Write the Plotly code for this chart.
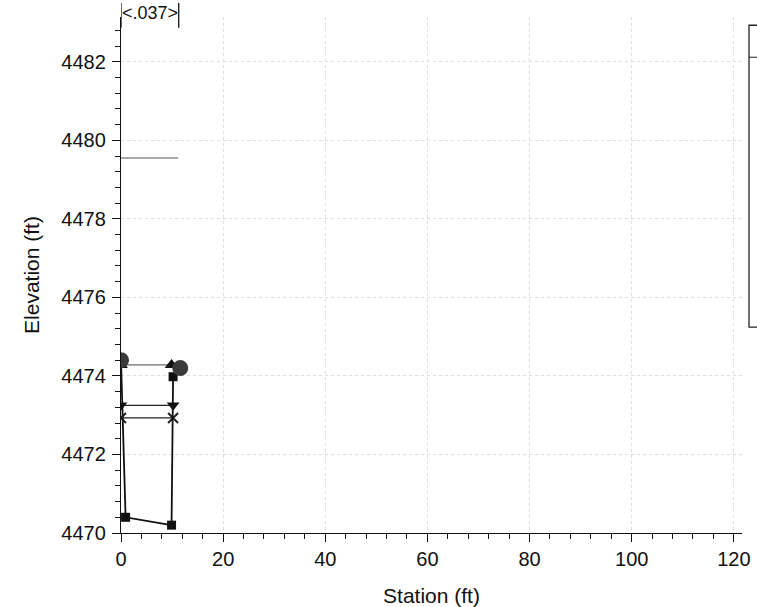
import plotly.graph_objects as go

# Data
ground_sta = [0.0, 0.9, 9.9, 10.2]
ground_elev = [4474.40, 4470.40, 4470.20, 4473.98]
bank_sta = [0.0, 11.6]
bank_elev = [4474.40, 4474.20]
eg_sta = [0.0, 9.9]
eg_elev = [4474.28, 4474.28]
ws_sta = [0.0, 10.2]
ws_elev = [4473.25, 4473.25]
crit_sta = [0.0, 10.2]
crit_elev = [4472.93, 4472.93]
lid_sta = [0.0, 11.2]
lid_elev = [4479.55, 4479.55]
n_value_label = "<.037>"
n_bounds = [0.0, 11.3]

x_ticks = [0, 20, 40, 60, 80, 100, 120]
y_ticks = [4470, 4472, 4474, 4476, 4478, 4480, 4482]

FONT = "Liberation Sans, Arial, sans-serif"

fig = go.Figure()

fig.add_trace(go.Scatter(x=lid_sta, y=lid_elev, mode="lines",
                         line=dict(color="#555555", width=1.2), showlegend=False))
fig.add_trace(go.Scatter(x=eg_sta, y=eg_elev, mode="lines+markers",
                         line=dict(color="#444444", width=1),
                         marker=dict(symbol="triangle-up", size=12, color="#111111"),
                         showlegend=False))
fig.add_trace(go.Scatter(x=ws_sta, y=ws_elev, mode="lines+markers",
                         line=dict(color="#222222", width=1.2),
                         marker=dict(symbol="triangle-down", size=11, color="#111111"),
                         showlegend=False))
fig.add_trace(go.Scatter(x=crit_sta, y=crit_elev, mode="lines+markers",
                         line=dict(color="#222222", width=1.2),
                         marker=dict(symbol="x-thin-open", size=10,
                                     line=dict(color="#111111", width=2)),
                         showlegend=False))
fig.add_trace(go.Scatter(x=ground_sta, y=ground_elev, mode="lines+markers",
                         line=dict(color="#111111", width=1.8),
                         marker=dict(symbol="square", size=9, color="#111111"),
                         showlegend=False))
fig.add_trace(go.Scatter(x=bank_sta, y=bank_elev, mode="markers",
                         marker=dict(symbol="circle", size=16, color="#3a3a3a"),
                         showlegend=False))

# n-value brackets at top (plot height 516 px, top at 17 px)
for xs in n_bounds:
    fig.add_shape(type="line", xref="x", yref="paper", x0=xs, x1=xs,
                  y0=0.979, y1=1.027, line=dict(color="#111111", width=1.3))
fig.add_annotation(x=(n_bounds[0] + n_bounds[1]) / 2, y=1.008, xref="x", yref="paper",
                   yanchor="middle", xanchor="center",
                   text=n_value_label, showarrow=False,
                   font=dict(family=FONT, size=18, color="#111111"))

# legend box (cut off at right edge)
fig.add_shape(type="rect", xref="paper", yref="paper", x0=1.0113, x1=1.3,
              y0=0.399, y1=0.984, line=dict(color="#222222", width=1.3))
fig.add_shape(type="line", xref="paper", yref="paper", x0=1.0113, x1=1.3,
              y0=0.922, y1=0.922, line=dict(color="#222222", width=1))

axis_common = dict(showline=True, linecolor="#111111", linewidth=1.3,
                   ticks="outside", ticklen=8, tickcolor="#111111", tickwidth=1.2,
                   showgrid=True, gridcolor="#dddddd", griddash="dot", gridwidth=1,
                   zeroline=False, mirror=False, automargin=False,
                   tickfont=dict(family=FONT, size=20, color="#111111"))

fig.update_xaxes(range=[0, 121.6], tickvals=x_ticks,
                 minor=dict(dtick=4, ticks="outside", ticklen=5, tickcolor="#111111",
                            showgrid=False),
                 title=dict(text="Station (ft)", font=dict(family=FONT, size=21, color="#111111"),
                            standoff=21),
                 **axis_common)
fig.update_yaxes(range=[4470, 4483.14], tickvals=y_ticks, tickformat="d",
                 ticklabelstandoff=2,
                 minor=dict(dtick=0.4, ticks="outside", ticklen=5, tickcolor="#111111",
                            showgrid=False),
                 title=dict(text="Elevation (ft)", font=dict(family=FONT, size=21, color="#111111"),
                            standoff=15),
                 **axis_common)

fig.update_layout(width=757, height=607, plot_bgcolor="white", paper_bgcolor="white",
                  margin=dict(l=121, r=15, t=17, b=74), showlegend=False)

fig.write_html("out.html", config={"displayModeBar": False},
               post_script="document.body.style.margin='0px';document.body.style.overflow='hidden';")
